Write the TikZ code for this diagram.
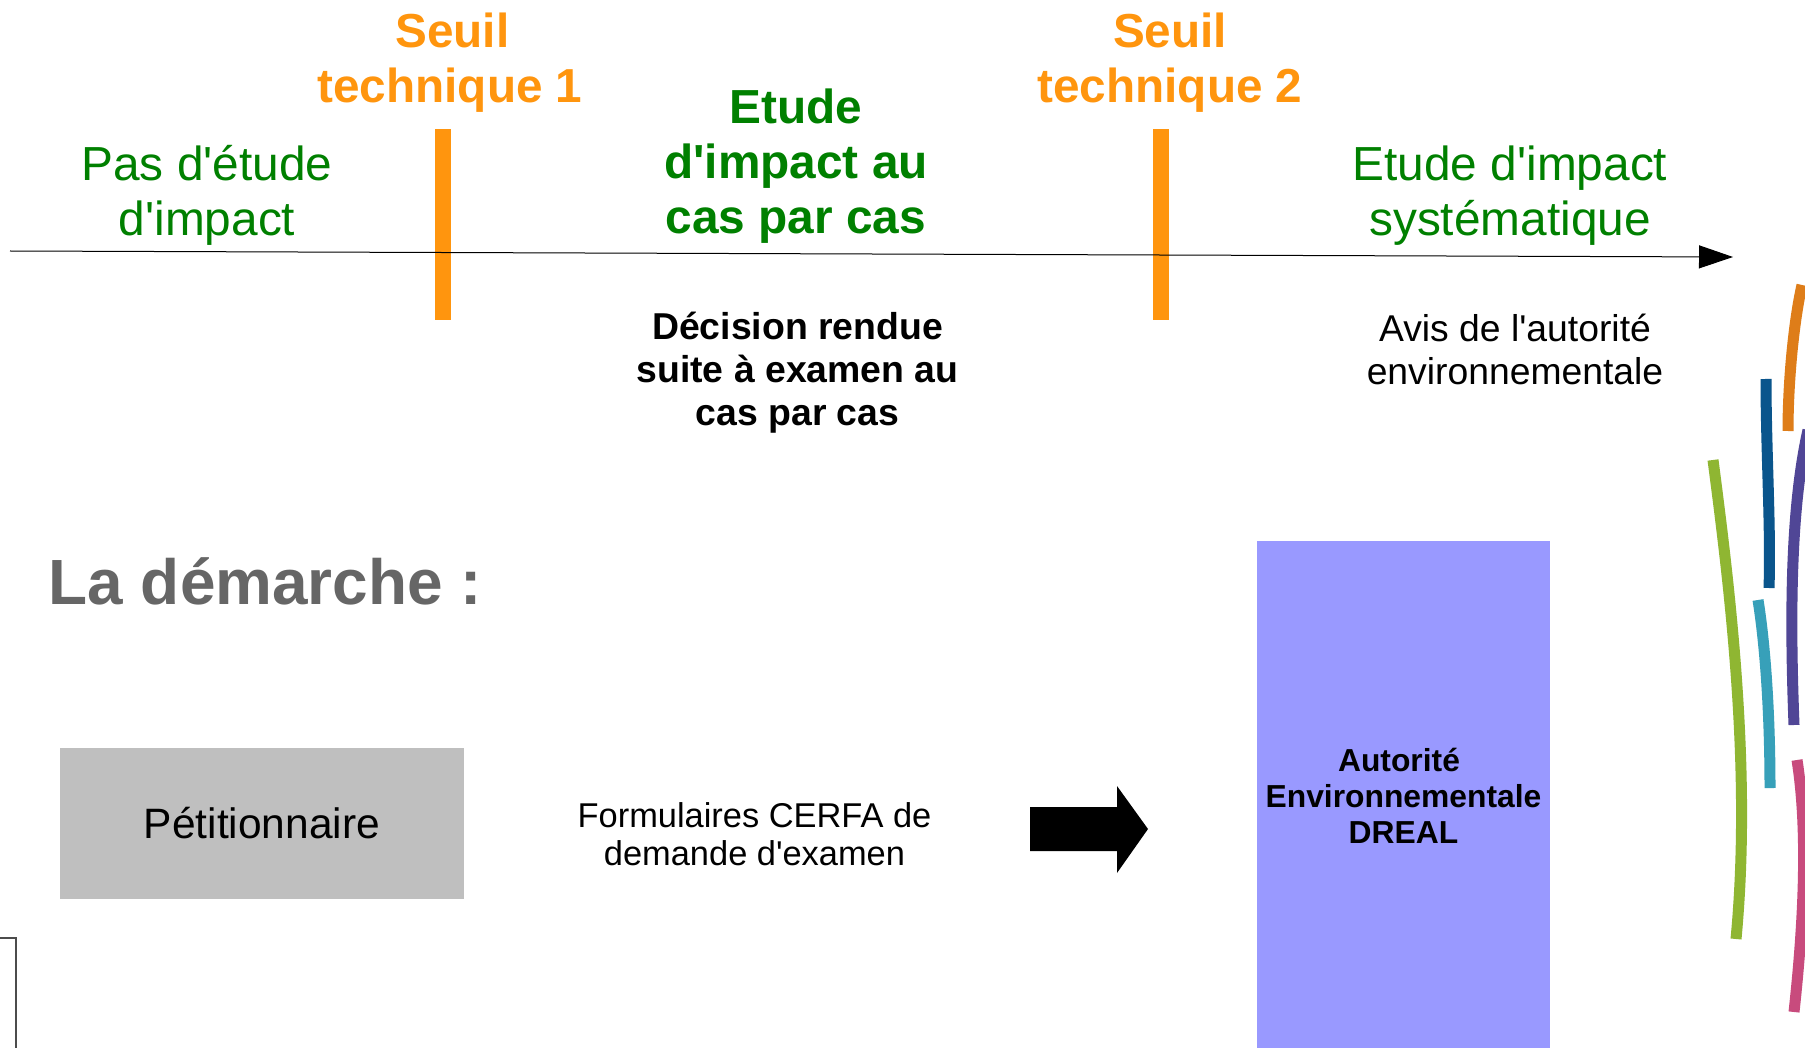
\documentclass[tikz,border=0pt]{standalone}
\usepackage{fontspec}
\setmainfont{Liberation Sans}[Ligatures=TeXOff]
\usetikzlibrary{arrows.meta}
\definecolor{seuil}{HTML}{FF950E}
\definecolor{vert}{HTML}{008000}
\definecolor{titre}{HTML}{666666}
\definecolor{gris}{HTML}{BFBFBF}
\definecolor{violet}{HTML}{9999FF}
\tikzset{
 lbl/.style={align=center,inner sep=0pt,text=black},
 seuillbl/.style={lbl,text=seuil,font=\fontsize{47.7}{55}\selectfont\bfseries},
 bar/.style={fill=seuil,draw=none},
 greenlbl/.style={lbl,text=vert,font=\fontsize{47.8}{55}\selectfont},
 greenbold/.style={lbl,text=vert,font=\fontsize{47.8}{55}\selectfont\bfseries},
 smalllbl/.style={lbl,font=\fontsize{37.3}{43}\selectfont},
 smallbold/.style={lbl,font=\fontsize{37.4}{43}\selectfont\bfseries},
 ribbon/.style={line width=11pt,line cap=butt},
}
\begin{document}
\begin{tikzpicture}[x=1pt,y=-1pt]
\useasboundingbox (0,0) rectangle (1805,1048);
\fill[white] (0,0) rectangle (1805,1048);
% bars
\node[bar,minimum width=16pt,minimum height=191pt,inner sep=0pt] (b1) at (443,224.5) {};
\node[bar,minimum width=16pt,minimum height=191pt,inner sep=0pt] (b2) at (1161,224.5) {};
% timeline
\coordinate (t0) at (10,251);
\coordinate (t1) at (1733,257);
\draw[line width=1pt,-{Triangle[length=34pt,width=23pt]}] (t0) -- (t1);
% top labels
\node[seuillbl] (s1) at (450,62.5) {\hspace*{5pt}Seuil\\technique 1};
\node[seuillbl] (s2) at (1170,62.5) {Seuil\\technique 2};
\node[greenlbl] (g1) at (207,195.5) {Pas d'étude\\d'impact};
\node[greenbold] (g2) at (796,166.5) {Etude\\d'impact au\\cas par cas};
\node[greenlbl] (g3) at (1510,195.5) {Etude d'impact\\systématique};
\node[smallbold] (d1) at (797.5,373) {Décision rendue\\suite à examen au\\cas par cas};
\node[smalllbl] (d2) at (1515,349) {Avis de l'autorité\\environnementale};
% lower
\node[lbl,text=titre,font=\fontsize{63.9}{70}\selectfont\bfseries,anchor=west] (t) at (48.5,581) {La démarche :};
\node[fill=gris,minimum width=404pt,minimum height=151pt,inner sep=0pt,font=\fontsize{42.5}{50}\selectfont] (p) at (262,823.5) {Pétitionnaire};
\node[lbl,font=\fontsize{34.4}{38}\selectfont] (f) at (754.5,834) {Formulaires CERFA de\\demande d'examen};
\fill[black] (1030,807) -- (1117,807) -- (1117,786) -- (1148,829) -- (1117,873) -- (1117,851) -- (1030,851) -- cycle;
\fill[violet] (1257,541) rectangle (1550,1048);
\node[lbl,font=\fontsize{31.8}{36}\selectfont\bfseries] (a) at (1403.5,795.5) {Autorité\hspace*{9pt}\\Environnementale\\DREAL};
% corner of a box
\draw[line width=2.5pt,color=black!70] (0,938) -- (16,938) -- (16,1048);
% ribbons
\draw[ribbon,draw={rgb,255:red,143;green,182;blue,50}] (1713,460) .. controls (1730,590) and (1752,770) .. (1736,939);
\draw[ribbon,draw={rgb,255:red,10;green,85;blue,140}] (1766,379) .. controls (1766,450) and (1771,530) .. (1769,588);
\draw[ribbon,draw={rgb,255:red,55;green,160;blue,185}] (1758,600) .. controls (1766,650) and (1770,720) .. (1770,788);
\draw[ribbon,draw={rgb,255:red,222;green,125;blue,25}] (1802,285) .. controls (1794,320) and (1788,380) .. (1788,431);
\draw[ribbon,draw={rgb,255:red,80;green,70;blue,150}] (1808,430) .. controls (1790,510) and (1790,620) .. (1794,725);
\draw[ribbon,draw={rgb,255:red,200;green,75;blue,125}] (1797,760) .. controls (1808,830) and (1804,920) .. (1794,1012);
\end{tikzpicture}
\end{document}
